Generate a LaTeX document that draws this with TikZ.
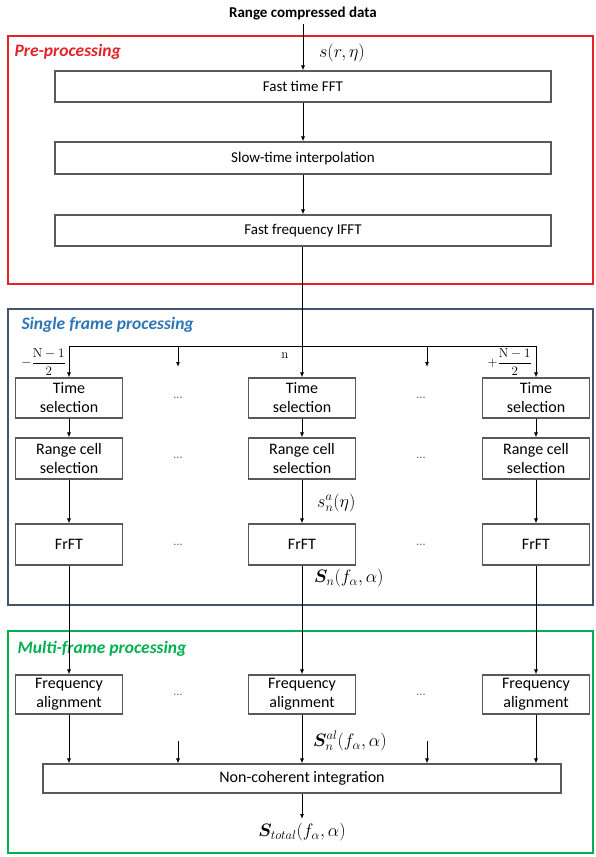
\RequirePackage{fix-cm}
\documentclass[tikz,border=0pt]{standalone}
\usepackage{amsmath,amssymb}
\usepackage{bm}
\usepackage[no-math]{fontspec}
\setmainfont{Carlito}
\usetikzlibrary{arrows.meta,positioning}

\definecolor{prered}{RGB}{226,35,40}
\definecolor{singleframe}{RGB}{68,84,106}
\definecolor{singletext}{RGB}{46,117,182}
\definecolor{multigreen}{RGB}{0,176,80}

\tikzset{
  procbox/.style={draw=black!65, line width=1.1pt, fill=white, align=center,
    inner sep=1pt, font=\fontsize{16}{19}\selectfont},
  colbox/.style={procbox, minimum width=107pt, minimum height=40pt},
  flow/.style={-{Latex[length=5pt,width=4pt]}, line width=0.9pt},
  sig/.style={font=\fontsize{18}{20}\selectfont, inner sep=1pt},
  idx/.style={font=\fontsize{13}{15}\selectfont, inner sep=1pt},
  dots/.style={font=\fontsize{12}{14}\selectfont, text=black!60},
  frametitle/.style={anchor=west, font=\fontsize{17.5}{20}\selectfont\bfseries\itshape}
}

\begin{document}
\begin{tikzpicture}[x=1pt,y=-1pt]
    \useasboundingbox (0,0) rectangle (595,857);

    % frames
    \draw[prered, line width=1.6pt] (8,36) rectangle (593,284);
    \draw[singleframe, line width=1.6pt] (8,309) rectangle (593,605);
    \draw[multigreen, line width=1.6pt] (8,631) rectangle (593,853);
    \node[frametitle, text=prered] (pretitle) at (11,52) {Pre-processing};
    \node[frametitle, text=singletext] (singletitle) at (18,325) {Single frame processing};
    \node[frametitle, text=multigreen] (multititle) at (14,649) {Multi-frame processing};

    % pre-processing
    \node[font=\fontsize{15}{17}\selectfont\bfseries] (input) at (303,14) {Range compressed data};
    \node[procbox, font=\fontsize{15}{18}\selectfont, minimum width=496pt, minimum height=31pt] (fft) at (303,86.5) {Fast time FFT};
    \node[procbox, font=\fontsize{15}{18}\selectfont, minimum width=496pt, minimum height=32pt] (slow) at (303,158) {Slow-time interpolation};
    \node[procbox, font=\fontsize{15}{18}\selectfont, minimum width=496pt, minimum height=31pt] (ifft) at (303,230.5) {Fast frequency IFFT};
    \draw[flow] (input) -- (fft);
    \draw[flow] (fft) -- (slow);
    \draw[flow] (slow) -- (ifft);
    \node[sig] (sinput) at (342,53) {$s(r,\eta)$};

    % single frame processing
    \node[colbox] (tsel1) at (69,398) {Time\\selection};
    \node[colbox] (tsel2) at (302,398) {Time\\selection};
    \node[colbox] (tsel3) at (536,398) {Time\\selection};
    \node[colbox, minimum height=41pt] (rsel1) at (69,458.5) {Range cell\\selection};
    \node[colbox, minimum height=41pt] (rsel2) at (302,458.5) {Range cell\\selection};
    \node[colbox, minimum height=41pt] (rsel3) at (536,458.5) {Range cell\\selection};
    \node[colbox, minimum height=41pt] (frft1) at (69,544.5) {FrFT};
    \node[colbox, minimum height=41pt] (frft2) at (302,544.5) {FrFT};
    \node[colbox, minimum height=41pt] (frft3) at (536,544.5) {FrFT};

    \coordinate (split) at (302,346);
    \draw[line width=0.9pt] (ifft.south -| split) -- (split);
    \draw[line width=0.9pt] (split -| tsel1) -- (split -| tsel3);
    \draw[flow] (split -| tsel1) -- (tsel1);
    \draw[flow] (split) -- (tsel2);
    \draw[flow] (split -| tsel3) -- (tsel3);
    \coordinate (skipa) at (178,346);
    \coordinate (skipb) at (427,346);
    \draw[flow] (skipa) -- ++(0,21);
    \draw[flow] (skipb) -- ++(0,21);

    \node[idx, anchor=east] (nleft) at (67,362) {$-\dfrac{\mathrm{N}-1}{2}$};
    \node[idx] (nmid) at (285,356) {$\mathrm{n}$};
    \node[idx, anchor=east] (nright) at (533,362) {$+\dfrac{\mathrm{N}-1}{2}$};

    \foreach \i in {1,2,3} {
        \draw[flow] (tsel\i) -- (rsel\i);
        \draw[flow] (rsel\i) -- (frft\i);
    }
    \foreach \y/\r in {398/t,458/r,545/f} {
        \node[dots] (\r dotsa) at (178,\y) {...};
        \node[dots] (\r dotsb) at (421,\y) {...};
    }
    \node[sig, anchor=west] (sna) at (316,503) {$s_n^{a}(\eta)$};
    \node[sig, anchor=west] (sn) at (313,578) {$\bm{S}_n(f_\alpha,\alpha)$};

    % multi-frame processing
    \node[colbox, minimum height=39pt] (falign1) at (69,694.5) {Frequency\\alignment};
    \node[colbox, minimum height=39pt] (falign2) at (302,694.5) {Frequency\\alignment};
    \node[colbox, minimum height=39pt] (falign3) at (536,694.5) {Frequency\\alignment};
    \node[dots] (adotsa) at (178,695) {...};
    \node[dots] (adotsb) at (421,695) {...};
    \node[procbox, minimum width=518pt, minimum height=29pt] (nci) at (302,778.5) {Non-coherent integration};

    \foreach \i in {1,2,3} {
        \draw[flow] (frft\i) -- (falign\i);
        \draw[flow] (falign\i.south) -- (falign\i.south |- nci.north);
    }
    \coordinate (joina) at (178,741);
    \coordinate (joinb) at (427,741);
    \draw[flow] (joina) -- (joina |- nci.north);
    \draw[flow] (joinb) -- (joinb |- nci.north);
    \node[sig, anchor=west] (snal) at (312,741) {$\bm{S}_n^{al}(f_\alpha,\alpha)$};

    \coordinate (out) at (302,819);
    \draw[flow] (nci) -- (out);
    \node[sig] (stotal) at (302,832) {$\bm{S}_{total}(f_\alpha,\alpha)$};
\end{tikzpicture}
\end{document}
